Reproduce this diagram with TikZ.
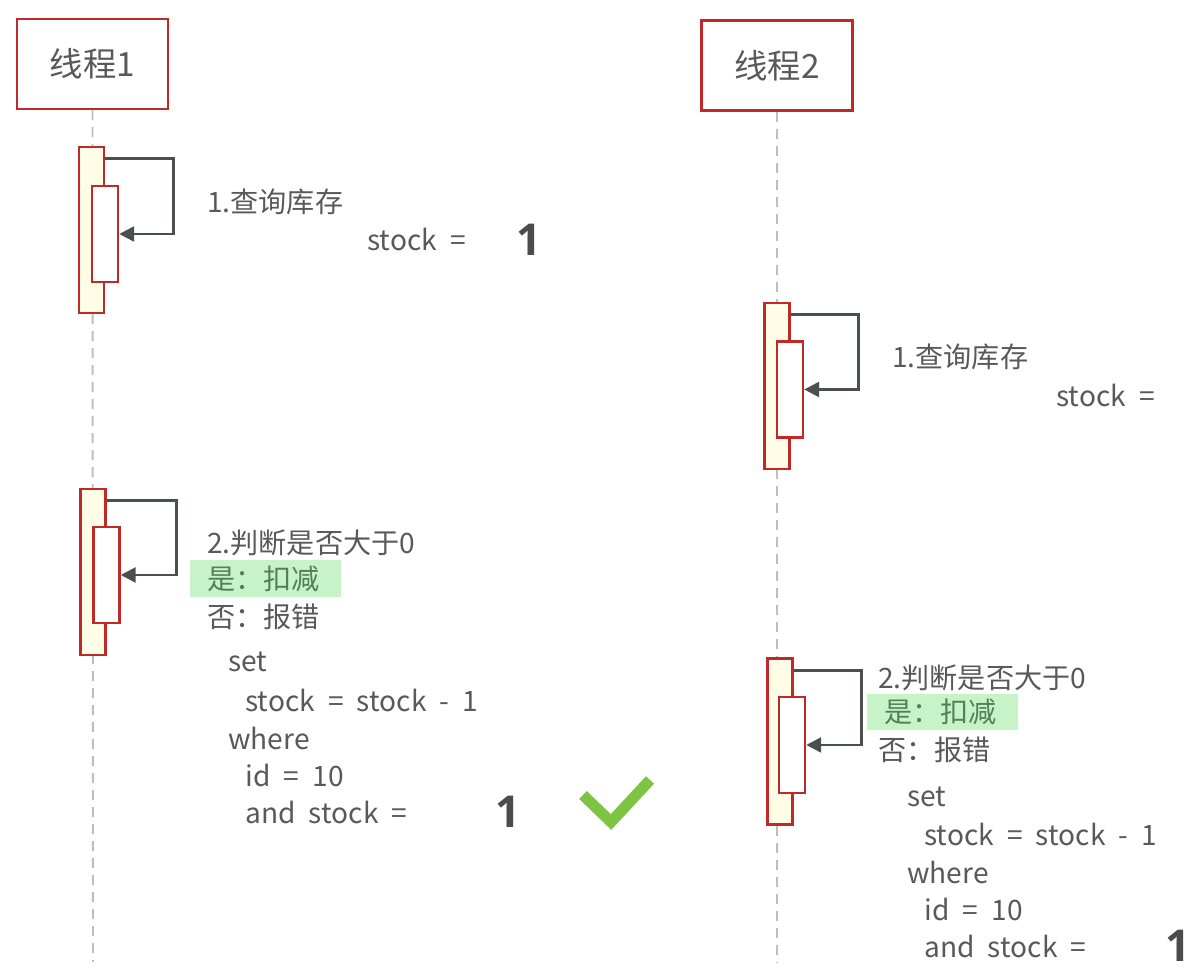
\documentclass[tikz,border=0pt]{standalone}
\usepackage{fontspec}
\setmainfont{Noto Sans CJK SC}[WordSpace=2.1]
\newfontfamily\numfont{Open Sans}
\usetikzlibrary{arrows.meta}
\definecolor{zred}{RGB}{192, 40, 42}
\definecolor{zfill}{RGB}{255, 253, 230}
\definecolor{zarrow}{RGB}{74, 80, 80}
\definecolor{ztext}{RGB}{89, 89, 89}
\definecolor{zline}{RGB}{190, 190, 190}
\definecolor{zhl}{RGB}{200, 242, 200}
\definecolor{zhltext}{RGB}{84, 128, 84}
\definecolor{zcheck}{RGB}{125, 196, 66}

\begin{document}
\begin{tikzpicture}[x=0.02cm, y=-0.02cm,
  every node/.style={inner sep=0pt},
  actor/.style={rectangle, draw=zred, line width=1.4pt, fill=white,
                minimum width=3.02cm, minimum height=1.8cm,
                text=ztext, font=\fontsize{19}{22}\selectfont},
  life/.style={draw=zline, line width=1.1pt, dash pattern=on 0.2cm off 0.14cm},
  actbox/.style={rectangle, draw=zred, line width=1.4pt, fill=zfill,
                 minimum width=0.5cm, minimum height=3.32cm},
  subbox/.style={rectangle, draw=zred, line width=1.4pt, fill=white,
                 minimum width=0.52cm, minimum height=1.92cm},
  self/.style={-{Triangle[length=0.3cm, width=0.3cm]}, draw=zarrow, line width=1.5pt},
  lbl/.style={anchor=west, text=ztext, font=\fontsize{16}{20}\selectfont},
  big/.style={anchor=west, text=ztext!85!black,
              font=\numfont\bfseries\fontsize{25}{28}\selectfont},
  hl/.style={anchor=west, fill=zhl, text=zhltext, font=\fontsize{16}{20}\selectfont,
             minimum height=0.74cm, inner xsep=0.34cm, text width=2.34cm, align=left},
  check/.style={draw=zcheck, line width=0.22cm}
]
\useasboundingbox (0,0) rectangle (1188,979);

% Actors
\node[actor] (t1) at (92.5,64)  {线程1};
\node[actor] (t2) at (777,65.5) {线程2};

% Lifelines
\coordinate (e1) at (93,962);
\coordinate (e2) at (777,962);
\draw[life] (t1.south) -- (e1);
\draw[life] (t2.south) -- (e2);

% Thread 1
\node[actbox] (o1) at (91.5,230) {};
\node[subbox] (i1) at (105,234)  {};
\draw[self] ([yshift=-0.26cm]o1.north east) -| ([xshift=1.08cm]i1.east) -- (i1.east);
\node[lbl] (q1) at (207,202) {1.查询库存};
\node[lbl] (s1) at (367,240) {stock =};
\node[big] (v1) at (516,240) {1};

\node[actbox] (o2) at (93,572)  {};
\node[subbox] (i2) at (106.5,575) {};
\draw[self] ([yshift=-0.26cm]o2.north east) -| ([xshift=1.12cm]i2.east) -- (i2.east);
\node[lbl] (j1) at (207,543) {2.判断是否大于0};
\node[hl]  (y1) at (190,579) {是：扣减};
\node[lbl] (n1) at (207,617) {否：报错};
\node[lbl] (a1) at (228,662) {set};
\node[lbl] (b1) at (245,700) {stock = stock - 1};
\node[lbl] (c1) at (228,738) {where};
\node[lbl] (d1) at (245,775) {id = 10};
\node[lbl] (f1) at (245,812) {and stock =};
\node[big] (w1) at (495,812) {1};
\draw[check] (583,795) -- (611,822) -- (650,780);

% Thread 2
\node[actbox] (o3) at (777,386)   {};
\node[subbox] (i3) at (790,389.5) {};
\draw[self] ([yshift=-0.26cm]o3.north east) -| ([xshift=1.08cm]i3.east) -- (i3.east);
\node[lbl] (q2) at (892,357)  {1.查询库存};
\node[lbl] (s2) at (1056,395) {stock =};

\node[actbox] (o4) at (780,741.5) {};
\node[subbox] (i4) at (792,745)   {};
\draw[self] ([yshift=-0.26cm]o4.north east) -| ([xshift=1.1cm]i4.east) -- (i4.east);
\node[lbl] (j2) at (878,678) {2.判断是否大于0};
\node[hl]  (y2) at (867,712) {是：扣减};
\node[lbl] (n2) at (878,750) {否：报错};
\node[lbl] (a2) at (907,797) {set};
\node[lbl] (b2) at (924,834) {stock = stock - 1};
\node[lbl] (c2) at (907,872) {where};
\node[lbl] (d2) at (924,909) {id = 10};
\node[lbl] (f2) at (924,946) {and stock =};
\node[big] (w2) at (1165,946) {1};

\end{tikzpicture}
\end{document}
